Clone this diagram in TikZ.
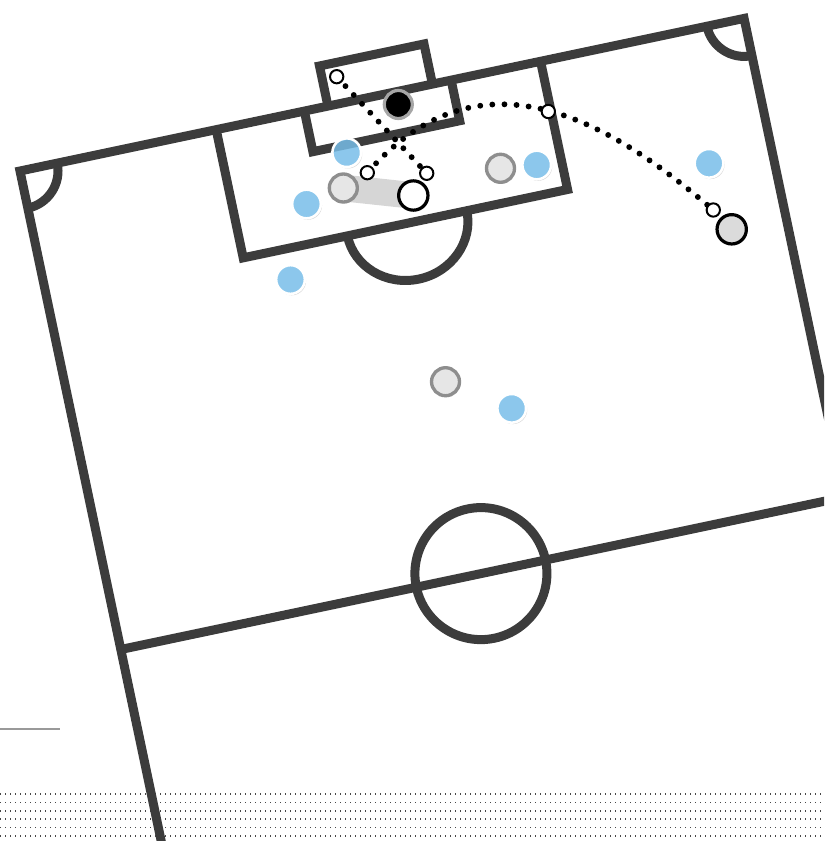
\documentclass[tikz,border=0pt]{standalone}
\usetikzlibrary{shadows}
\definecolor{pitchline}{HTML}{3C3C3C}
\definecolor{blueC}{RGB}{124,196,240}
\definecolor{grayFill}{HTML}{E6E6E6}
\definecolor{grayEdge}{HTML}{8E8E8E}
\definecolor{hullC}{HTML}{D6D6D6}
\pgfdeclarelayer{bg}
\pgfsetlayers{bg,main}
\begin{document}
\begin{tikzpicture}[x=0.75pt,y=-0.75pt,
  pshadow/.style={drop shadow={shadow xshift=0.9pt,shadow yshift=-1.1pt,opacity=0.16,fill=black}},
  blueP/.style={circle,inner sep=0pt,minimum size=21.5pt,fill=blueC,fill opacity=0.82,draw=white,line width=1.9pt,pshadow},
  grayP/.style={circle,inner sep=0pt,minimum size=21pt,fill=grayFill,draw=grayEdge,line width=2.5pt,pshadow},
  ballP/.style={circle,inner sep=0pt,minimum size=21pt,fill=black,draw=black!35,line width=2.4pt},
  whiteP/.style={circle,inner sep=0pt,minimum size=22pt,fill=white,draw=black,line width=2.4pt,pshadow},
  grayK/.style={circle,inner sep=0pt,minimum size=22pt,fill=black!14,draw=black,line width=2.4pt,pshadow},
  smallC/.style={circle,inner sep=0pt,minimum size=10pt,fill=white,draw=black,line width=1.5pt},
  dotline/.style={line width=4.4pt,line cap=round,dash pattern=on 0pt off 9.1pt,black},
  pitch/.style={line width=6.75pt,draw=pitchline,line join=miter}]
\useasboundingbox (0,0) rectangle (824,841);

% players
\node[grayP] (G1) at (343.3,188) {};
\node[grayP] (G2) at (500.5,168.3) {};
\node[grayP] (G3) at (445.5,381.7) {};
\node[blueP] (B1) at (346.7,152.7) {};
\node[blueP] (B2) at (306.5,204) {};
\node[blueP] (B3) at (290.5,279.5) {};
\node[blueP] (B4) at (536.7,165) {};
\node[blueP] (B5) at (709,163.3) {};
\node[blueP] (B6) at (511.7,408.3) {};
\node[ballP] (K) at (398.3,104.5) {};
\node[whiteP] (W) at (413.3,195.5) {};
\node[grayK] (R) at (731.7,229.3) {};
\node[smallC] (s1) at (336.7,76.7) {};
\node[smallC] (s2) at (426.7,173.3) {};
\node[smallC] (s3) at (367.3,172.7) {};
\node[smallC] (s4) at (548.3,111.5) {};
\node[smallC] (s5) at (713.3,210) {};

\begin{pgfonlayer}{bg}
\begin{scope}
\clip (0,0) rectangle (824,841);
% dotted band
\foreach \yy in {794.3,802.6,810.9,819.2,827.5,835.8}
  \draw[black!72,line width=1.3pt,dash pattern=on 1.1pt off 2.65pt] (0,\yy) -- (824,\yy);
% short grey rule
\draw[gray!80,line width=1.5pt] (0,729) -- (60,729);
% pitch
\begin{scope}[shift={(20,171)},rotate=11.9]
  \draw[pitch] (0,760) -- (0,0) -- (740,0) -- (740,760);
  \draw[pitch] (0,489) -- (740,489);
  \draw[pitch] (368,489) circle[radius=66];
  \draw[pitch] (200.5,0) -- (200.5,131) -- (532,131) -- (532,0);
  \draw[pitch] (290.6,0) -- (290.6,41.5) -- (440.6,41.5) -- (440.6,0);
  \draw[pitch] (314.7,0) -- (314.7,-41) -- (421.5,-41) -- (421.5,0);
  \draw[pitch] (429,131) arc[start angle=0,end angle=180,x radius=61,y radius=57];
  \draw[pitch] (38,0) arc[start angle=0,end angle=90,radius=38];
  \draw[pitch] (702,0) arc[start angle=180,end angle=90,radius=38];
\end{scope}
% shaded hull between players
\draw[hullC,line width=20pt] (G1.center) -- (W.center);
% dotted runs
\draw[dotline,dash phase=5.2pt] (s1) -- (s2);
\draw[dotline,dash phase=5.2pt] (s3) .. controls (479.6,51.4) and (600.4,114.3) .. (s5);
\end{scope}
\end{pgfonlayer}
\end{tikzpicture}
\end{document}
